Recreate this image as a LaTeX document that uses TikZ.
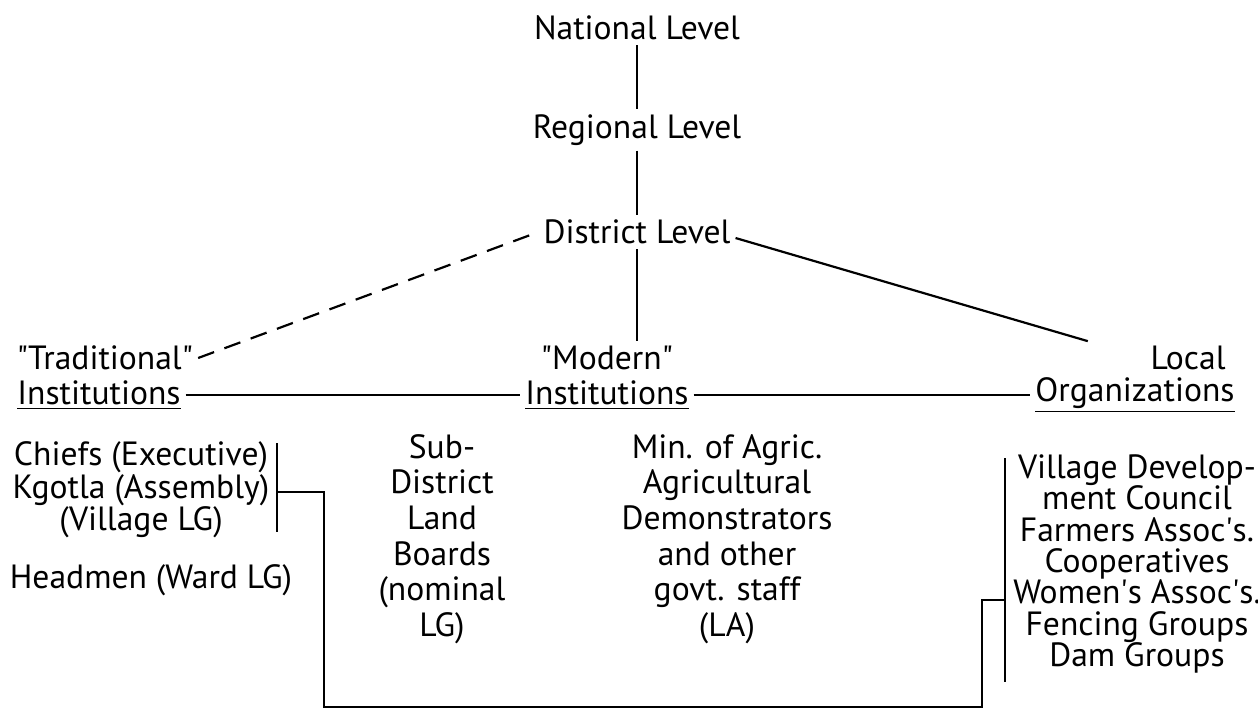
\documentclass[tikz,border=0pt]{standalone}
\usepackage{fontspec}
\setmainfont{PT Sans}
\usetikzlibrary{positioning}

\begin{document}
\begin{tikzpicture}[x=0.5pt, y=-0.5pt, line width=1.1pt,
        font=\fontsize{16.8}{17}\selectfont,
        main/.style = {inner sep=2pt},
        list/.style = {align=center, inner sep=0pt}]
        \useasboundingbox (0,0) rectangle (1258,709);

            % levels
            \node[main] (nat) at (637,28) {National Level};
            \node[main] (reg) at (637,130) {Regional Level};
            \node[main] (dist) at (637,232) {District Level};

            % institutions
            \node[main] (tradA) at (105,358) {\textquotedbl Traditional\textquotedbl};
            \node[main] (tradB) at (99,395) {\underline{Institutions}};
            \node[main] (modA) at (607,358) {\textquotedbl Modern\textquotedbl};
            \node[main] (modB) at (607,395) {\underline{Institutions}};
            \node[main] (locA) at (1188,358) {Local};
            \node[main] (locB) at (1135,395) {\underline{Organizations}};

            % lists
            \node[list, font=\fontsize{16.8}{16.3}\selectfont] (chiefs) at (141,490) {Chiefs (Executive)\\Kgotla (Assembly)\\(Village LG)};
            \node[list] (head) at (151,580) {Headmen (Ward LG)};
            \node[list, font=\fontsize{16.8}{17.8}\selectfont] (subd) at (442,539) {Sub-\\District\\Land\\Boards\\(nominal\\LG)};
            \node[list, font=\fontsize{16.8}{17.8}\selectfont] (minag) at (727,539) {Min. of Agric.\\Agricultural\\Demonstrators\\and other\\govt. staff\\(LA)};
            \node[list, font=\fontsize{16.8}{15.7}\selectfont] (vdc) at (1137,564) {Village Develop-\\ment Council\\Farmers Assoc\textquotesingle s.\\Cooperatives\\Women\textquotesingle s Assoc\textquotesingle s.\\Fencing Groups\\Dam Groups};

            % bracket ends
            \coordinate (lt) at (277,443);
            \coordinate (lb) at (277,532);
            \coordinate (lm) at (277,492);
            \coordinate (lbend) at (324,707);
            \coordinate (rt) at (1005,458);
            \coordinate (rb) at (1005,682);
            \coordinate (rm) at (1005,600);
            \coordinate (rbend) at (982,707);

            \draw (nat.south) -- (reg.north);
            \draw (reg.south) -- (dist.north);
            \draw (dist.south) -- (dist.south |- modA.north);
            \draw[dashed, dash pattern=on 8.5pt off 5.5pt] (tradA.east) -- (dist.west);
            \draw[shorten >=30pt] ([yshift=-3pt]dist.east) -- (locA.west);
            \draw (tradB.east) -- (modB.west);
            \draw (modB.east) -- (locB.west);

            \draw (lt) -- (lb);
            \draw (rt) -- (rb);
            \draw (lm) -| (lbend) -- (rbend) |- (rm);

            \end{tikzpicture}
\end{document}
